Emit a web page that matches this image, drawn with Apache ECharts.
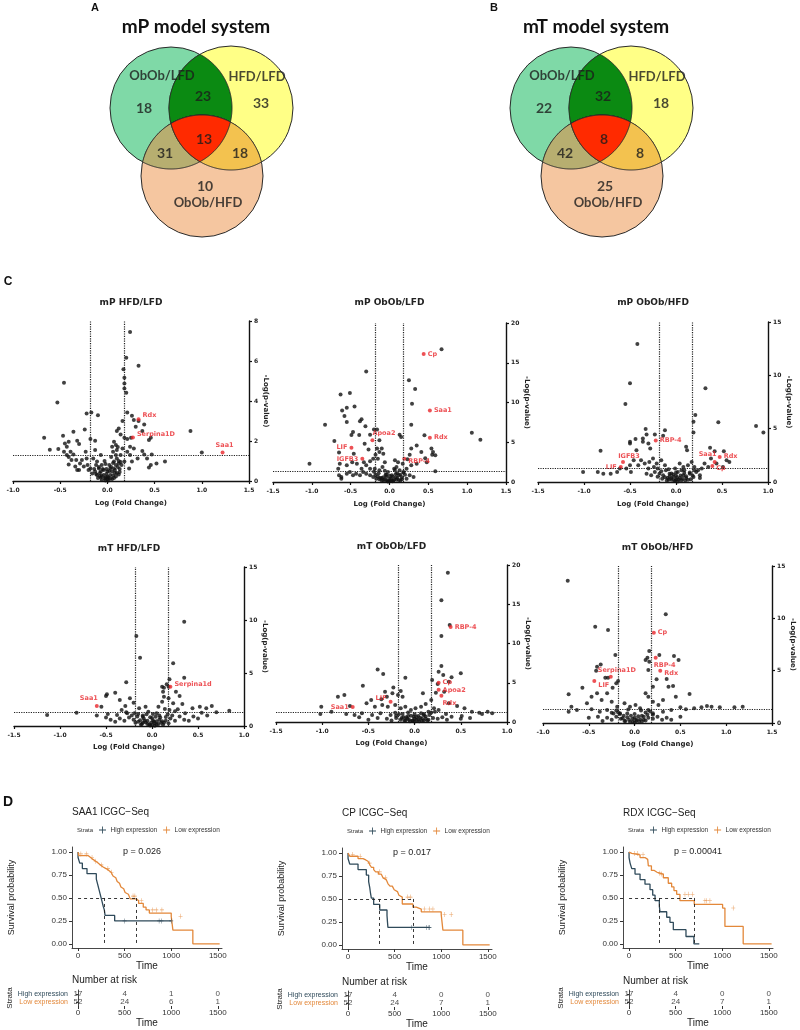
<!DOCTYPE html>
<html><head><meta charset="utf-8">
<script src="https://cdn.jsdelivr.net/npm/echarts@6/dist/echarts.min.js"></script>
<style>html,body{margin:0;padding:0;background:#fff}#c{width:800px;height:1030px}</style>
</head><body><div id="c"></div><script>
// ================= DATA =================
// Venn regions order: only ObOb/LFD, only HFD/LFD, only ObOb/HFD, Ob/LFD∩HFD/LFD, Ob/LFD∩Ob/HFD, HFD/LFD∩Ob/HFD, all three
const vennSetNames = ['ObOb/LFD', 'HFD/LFD', 'ObOb/HFD'];
const vennA_counts = [18, 33, 10, 23, 31, 18, 13];
const vennB_counts = [22, 18, 25, 32, 42, 8, 8];

const FC_CUT = 0.176;   // log10(1.5)
const P_CUT = 1.3;      // -log10(0.05)

const mP_HFD_LFD = [[0.24,7.45],[0.33,5.76],[0.20,6.16],[0.17,5.59],[0.18,5.16],[0.18,4.88],[0.18,4.63],[0.20,4.41],[-0.46,4.91],[-0.53,3.93],[-0.17,3.43],[-0.22,3.38],[-0.10,3.29],[0.21,3.43],[0.26,3.26],[0.28,3.05],[0.33,3.0],[0.39,2.83],[0.30,2.71],[0.16,3.0],[0.88,2.5],[-0.67,2.16],[-0.47,2.26],[-0.36,2.46],[-0.32,2.01],[-0.24,2.58],[-0.18,2.1],[-0.13,2.01],[-0.61,1.56],[-0.52,1.6],[0.12,2.63],[0.10,2.5],[0.14,2.33],[0.18,2.16],[0.21,2.1],[0.25,2.16],[0.37,2.5],[0.44,2.05],[0.46,2.16],[0.37,1.5],[0.39,1.33],[0.47,1.33],[1.0,1.43],[0.61,0.97],[0.52,0.88],[0.46,0.8],[0.44,0.67],[0.42,1.13],[-0.45,1.88],[-0.43,1.71],[-0.39,1.46],[-0.41,1.2],[-0.41,0.83],[-0.36,1.33],[-0.33,1.05],[-0.30,0.55],[-0.27,1.05],[-0.23,1.46],[-0.22,1.13],[-0.21,0.8],[-0.18,0.63],[-0.15,1.13],[-0.13,1.55],[-0.11,0.97],[-0.09,0.63],[-0.07,1.3],[-0.06,0.8],[-0.07,0.47],[-0.04,0.3],[-0.02,0.17],[0,0.1],[0.01,0.17],[0.03,0.3],[0.05,0.47],[0.07,0.63],[0.09,0.8],[0.07,0.97],[0.10,1.13],[0.12,0.88],[0.14,1.3],[0.16,1.63],[0.06,1.46],[0.09,1.8],[0.07,1.96],[0.05,1.71],[0.10,1.55],[0.18,0.97],[0.21,1.46],[0.24,1.71],[0.24,1.3],[0.28,1.63],[0.32,1.13],[0.26,0.97],[0.23,0.63],[0.03,0.63],[0,0.47],[-0.04,0.55],[-0.11,0.3],[-0.07,0.17],[-0.06,0.05],[-0.02,0.03],[0.01,0.03],[0.05,0.1],[0.09,0.22],[0.12,0.33],[-0.13,0.47],[-0.16,0.38],[-0.2,0.55],[-0.25,0.72],[-0.29,0.88],[-0.32,0.55],[-0.34,0.72],[-0.38,1.05],[-0.43,1.3],[-0.46,1.46],[-0.41,1.96],[-0.30,1.85],[-0.08,0.25],[0.08,0.4],[0.02,0.8],[-0.03,1.0],[0.13,0.6],[-0.12,0.8],[0.04,1.2],[-0.01,0.6],
  [-0.12,0.35],[-0.1,0.15],[-0.08,0.4],[-0.06,0.25],[-0.05,0.6],[-0.03,0.12],[-0.01,0.35],[0.0,0.22],[0.02,0.5],[0.03,0.12],[0.04,0.7],[0.06,0.28],[0.07,0.15],[0.08,0.55],[0.1,0.4],[0.11,0.7],[0.13,0.45],[0.15,0.8],[-0.14,0.6],[0.06,0.9],[-0.09,0.7],[0.12,1.0],[0.14,0.95],[-0.02,0.85],[0.09,1.3],[0.11,1.7]];
const mP_HFD_LFD_hits = [[0.33,3.09,'Rdx','right',0,-4],[0.27,2.18,'Serpina1D','right',0,-3],[1.22,1.43,'Saa1','top',2,0]];

const mP_ObOb_LFD = [[0.67,16.7],[-0.30,13.9],[0.25,12.8],[0.33,11.7],[-0.63,11.0],[-0.51,11.2],[-0.45,9.5],[-0.55,9.35],[-0.61,9.0],[-0.58,8.3],[-0.55,7.55],[-0.36,7.9],[-0.38,7.63],[0.29,9.85],[-0.83,7.2],[-0.31,7.0],[-0.2,6.6],[-0.16,6.6],[-0.25,5.95],[-0.47,6.3],[-0.49,5.9],[-0.39,5.9],[0.28,7.2],[-0.13,5.24],[0.13,5.95],[0.15,5.66],[0.45,5.87],[1.06,6.2],[1.17,5.3],[-0.71,5.15],[-0.65,3.7],[-0.46,3.56],[-0.32,4.82],[-1.03,2.3],[0.54,4.2],[0.56,3.77],[0.59,3.35],[0.55,3.44],[0.46,3.0],[0.41,3.77],[0.35,4.6],[0.28,4.2],[0.26,3.44],[0.23,2.85],[0.17,2.3],[0.11,2.5],[0.07,2.73],[0.09,1.9],[0.13,1.47],[0.18,1.26],[0.22,1.68],[0.28,2.1],[0.35,2.3],[0.48,2.5],[0.59,1.34],[0.31,0.63],[0.26,0.84],[0.22,0.42],[0.16,0.34],[0.09,0.29],[0.05,0.17],[0,0.13],[-0.04,0.17],[-0.08,0.21],[-0.13,0.34],[-0.17,0.42],[-0.21,0.63],[-0.25,0.84],[-0.30,1.05],[-0.34,1.26],[-0.38,0.84],[-0.43,1.05],[-0.47,0.84],[-0.51,1.26],[-0.55,1.05],[-0.62,0.63],[-0.66,1.68],[-0.64,2.3],[-0.55,2.1],[-0.48,2.5],[-0.42,2.3],[-0.36,1.68],[-0.30,2.1],[-0.25,2.6],[-0.21,2.93],[-0.18,3.44],[-0.15,2.93],[-0.13,3.77],[-0.10,4.2],[-0.08,3.56],[-0.06,2.5],[-0.09,1.9],[-0.13,1.47],[-0.19,1.68],[-0.02,1.26],[0.03,0.84],[0.06,1.68],[-0.04,0.63],[0.12,0.84],[-0.25,1.68],[-0.33,2.5],[-0.16,4.2],[-0.27,4.1],[-0.65,0.84],[-0.62,0.42],[-0.1,0.5],[0.02,0.4],[0.08,0.6],[-0.05,0.9],[0.1,1.1],[-0.15,0.7],[0.2,0.9],[0.04,0.1],[-0.02,0.05],[0.14,0.2],
  [-0.12,0.5],[-0.1,0.2],[-0.08,0.6],[-0.06,0.3],[-0.04,0.9],[-0.02,0.1],[0,0.4],[0.02,0.2],[0.04,0.7],[0.06,0.3],[0.08,1.0],[0.1,0.5],[0.12,0.25],[0.14,0.9],[-0.14,1.1],[-0.18,0.9],[0.16,0.6],[0.18,1.2],[-0.2,1.3],[0.0,0.8],[-0.06,1.4],[0.07,1.5]];
const mP_ObOb_LFD_hits = [[0.44,16.1,'Cp','right',0,0],[0.52,9.0,'Saa1','right',0,0],[0.52,5.58,'Rdx','right',0,0],[-0.22,5.24,'Apoa2','right',-4,-7],[-0.49,4.32,'LIF','left',0,0],[-0.35,2.93,'IGFB3','left',0,1],[0.19,2.93,'RBP-4','right',0,3]];

const mP_ObOb_HFD = [[-0.42,12.93],[-0.50,9.26],[-0.55,7.31],[0.32,8.79],[0.46,5.59],[0.87,5.24],[0.95,4.64],[0.21,6.28],[0.19,5.65],[0.19,4.64],[-0.33,4.96],[-0.44,4.02],[-0.50,3.77],[-0.50,3.6],[-0.36,4.08],[-0.32,4.45],[-0.23,4.45],[-0.14,4.33],[-0.12,4.86],[-0.43,2.98],[-0.82,2.92],[-0.36,3.77],[-0.30,3.6],[-0.28,3.14],[0.11,3.3],[0.12,2.98],[0.37,3.2],[0.42,2.89],[0.52,2.89],[-1.01,0.94],[-0.85,0.94],[-0.79,0.78],[-0.71,0.78],[-0.64,0.94],[-0.61,1.26],[-0.54,1.26],[-0.50,1.57],[-0.49,0.94],[-0.46,2.04],[-0.41,1.57],[-0.38,2.04],[-0.34,1.73],[-0.30,1.26],[-0.29,1.88],[-0.25,2.2],[-0.21,1.73],[-0.20,1.26],[-0.16,2.04],[-0.12,1.57],[-0.11,1.1],[-0.07,0.78],[-0.03,0.47],[0,0.25],[0.04,0.38],[0.08,0.63],[0.09,1.1],[0.13,1.57],[0.17,1.88],[0.20,1.41],[0.22,0.94],[0.26,0.63],[0.28,1.26],[0.31,1.73],[0.35,1.41],[0.38,2.2],[0.44,1.73],[0.55,2.04],[0.58,1.88],[0.51,1.41],[0.06,0.16],[-0.05,0.22],[-0.09,0.38],[-0.14,0.63],[-0.18,0.78],[-0.23,0.94],[-0.27,0.63],[-0.32,0.78],[0.11,0.38],[0.15,0.78],[0.19,0.47],[0.24,1.1],[0.02,0.94],[-0.01,1.26],[0.06,1.1],[0.04,1.73],[0.26,0.38],[-0.02,0.1],[0.02,0.05],[-0.08,0.2],[0.1,0.15],[-0.15,0.3],[0.16,0.25],[0.0,0.6],[-0.05,0.8],
  [-0.12,0.45],[-0.1,0.15],[-0.07,0.55],[-0.05,0.35],[-0.03,0.7],[-0.01,0.15],[0.01,0.45],[0.03,0.2],[0.05,0.6],[0.07,0.3],[0.09,0.85],[0.11,0.55],[0.13,0.2],[0.15,0.9],[-0.16,1.0],[-0.2,0.5],[0.18,0.6],[0.2,1.1],[-0.24,1.4],[0.0,0.9],[-0.08,1.2],[0.08,1.4]];
const mP_ObOb_HFD_hits = [[-0.22,3.89,'RBP-4','right',0,0],[0.42,1.88,'Saa1','top',-7,0],[0.475,2.35,'Rdx','right',0,-1],[0.395,1.5,'Cp','right',0,2],[-0.576,1.88,'IGFB3','top',6,2],[-0.6,1.41,'LIF','left',0,0]];

const mT_HFD_LFD = [[0.35,9.84],[-0.17,8.49],[-0.13,6.44],[0.23,5.91],[0.35,4.56],[-0.28,4.12],[0.19,4.4],[0.16,3.93],[0.13,3.61],[-0.40,3.14],[-0.49,2.99],[-0.55,1.82],[-0.50,2.83],[-1.14,1.04],[-0.82,1.26],[-0.35,2.45],[-0.24,2.61],[-0.20,2.2],[-0.29,1.89],[-0.33,1.51],[-0.14,1.67],[-0.07,1.82],[-0.04,1.35],[-0.15,1.13],[-0.27,1.2],[-0.38,1.04],[-0.48,1.13],[0.07,1.82],[0.11,2.29],[0.13,2.76],[0.12,3.24],[0.11,3.71],[0.18,3.71],[0.26,3.24],[0.30,2.83],[0.18,2.61],[0.23,2.14],[0.33,2.08],[0.28,1.58],[0.36,1.2],[0.44,1.67],[0.52,1.82],[0.59,1.67],[0.65,1.89],[0.84,1.44],[0.54,1.26],[0.01,1.13],[0.04,0.88],[-0.02,0.82],[-0.10,0.88],[-0.2,0.6],[-0.15,0.4],[-0.1,0.3],[-0.05,0.2],[0,0.1],[0.05,0.15],[0.1,0.3],[0.15,0.5],[0.2,0.7],[0.25,0.5],[-0.25,0.8],[-0.3,0.5],[-0.35,0.7],[-0.4,0.4],[0.3,0.9],[0.35,0.6],[0.4,0.5],[-0.08,0.5],[0.02,0.4],[0.08,0.6],[-0.02,0.05],[0.03,0.02],[-0.12,0.15],[0.12,0.12],[0.18,0.25],[-0.18,0.3],[0.22,1.0],[-0.22,1.0],[-0.45,0.6],[0.45,0.9],[0.5,0.7],[-0.5,0.8],[0.6,1.0],[0.7,1.3],[-0.6,1.0],[0.25,1.4],[-0.28,1.3],[0.14,1.6],[-0.1,1.0],[0.05,1.2],
  [-0.13,0.55],[-0.11,0.2],[-0.09,0.7],[-0.07,0.35],[-0.05,0.5],[-0.03,0.15],[-0.01,0.3],[0.01,0.55],[0.03,0.25],[0.05,0.45],[0.07,0.2],[0.09,0.8],[0.11,0.45],[0.13,0.3],[0.15,0.85],[-0.16,0.9],[0.17,1.1],[-0.19,1.2],[0.0,0.75],[-0.06,1.1],[0.08,1.0],[0.19,1.5]];
const mT_HFD_LFD_hits = [[0.20,3.71,'Serpina1d','right',0,-2],[-0.60,1.89,'Saa1','top',-8,0]];

const mT_ObOb_LFD = [[0.36,19.0],[0.29,15.5],[0.38,12.35],[0.29,10.95],[0.29,7.13],[-0.40,6.7],[-0.34,6.11],[-0.10,5.65],[0.50,6.2],[0.40,5.7],[0.26,6.4],[0.31,5.99],[0.19,5.35],[0.37,5.13],[0.25,4.84],[-0.56,4.63],[-0.23,4.38],[-0.32,3.86],[-0.15,3.95],[-0.83,3.23],[-0.76,3.44],[-1.01,1.95],[-1.02,1.02],[-0.70,2.04],[-0.90,1.31],[-0.36,2.89],[-0.30,3.23],[-0.24,3.66],[-0.18,3.44],[-0.13,3.23],[-0.47,2.8],[-0.52,2.38],[-0.43,1.95],[-0.35,2.17],[-0.29,1.95],[-0.21,2.17],[-0.15,1.74],[-0.10,1.95],[-0.04,1.53],[0.01,1.74],[0.07,1.95],[0.12,2.29],[0.09,3.66],[0.18,2.8],[0.23,3.73],[0.32,3.86],[0.37,2.38],[0.46,2.04],[0.54,1.74],[0.62,1.31],[0.70,1.18],[0.79,1.31],[0.84,1.1],[0.73,1.02],[0.51,0.76],[0.40,0.68],[0.34,1.02],[0.26,1.53],[0.21,1.74],[0.15,1.31],[0.10,1.02],[0.04,0.76],[-0.01,0.68],[-0.07,0.76],[-0.13,1.02],[-0.21,1.18],[-0.26,0.89],[-0.37,1.1],[-0.46,0.89],[-0.57,1.1],[-0.65,0.89],[-0.74,1.02],[-0.3,0.4],[-0.2,0.5],[-0.15,0.3],[-0.1,0.2],[-0.05,0.1],[0,0.05],[0.05,0.1],[0.1,0.2],[0.15,0.3],[0.2,0.5],[0.25,0.4],[0.3,0.6],[-0.25,0.2],[-0.4,0.5],[-0.5,0.3],[0.35,0.3],[-0.08,0.4],[0.08,0.45],[0.02,0.25],[-0.02,0.15],[-0.12,0.6],[0.12,0.7],[0.5,0.4],[-0.6,0.6],[0.6,0.5],
  [-0.14,0.5],[-0.11,0.15],[-0.09,0.6],[-0.06,0.3],[-0.04,0.8],[-0.02,0.2],[0.0,0.45],[0.02,0.65],[0.04,0.3],[0.06,0.55],[0.08,0.15],[0.1,0.85],[0.12,0.4],[0.14,0.2],[0.16,0.9],[-0.17,1.0],[0.18,1.2],[-0.2,0.8],[0.0,1.0],[-0.07,1.2],[0.07,1.1],[0.22,1.3]];
const mT_ObOb_LFD_hits = [[0.39,12.1,'RBP-4','right',0,0],[0.26,5.0,'Cp','right',0,0],[0.26,4.1,'Apoa2','right',0,0],[0.29,3.35,'Rdx','bottom',8,0],[-0.67,1.9,'Saa1','left',0,0],[-0.26,2.59,'LIF','left',0,-3]];

const mT_ObOb_HFD = [[-0.73,13.59],[0.34,10.38],[-0.43,9.2],[-0.29,8.88],[-0.21,6.5],[0.27,6.5],[0.43,6.4],[0.48,6.02],[0.16,6.88],[0.14,6.24],[0.12,6.02],[0.16,5.86],[-0.37,5.6],[-0.41,5.38],[-0.42,5.0],[-0.32,4.33],[-0.29,4.33],[0.15,5.06],[0.35,4.2],[0.24,4.17],[-0.57,3.37],[-0.24,3.37],[-0.20,3.79],[-0.18,4.01],[0.20,3.47],[0.42,3.54],[-0.72,2.74],[-0.69,1.56],[-0.63,1.24],[-0.72,1.08],[-0.52,1.88],[-0.47,2.51],[-0.41,2.84],[-0.36,2.2],[-0.30,2.84],[-0.25,2.03],[-0.19,1.56],[-0.11,1.88],[-0.05,1.56],[0.01,1.72],[0.06,1.4],[0.12,2.84],[0.15,2.51],[0.20,2.03],[0.26,1.72],[0.31,2.2],[0.37,3.47],[0.45,2.51],[0.60,2.77],[0.50,1.5],[0.56,1.31],[0.65,1.4],[0.73,1.5],[0.79,1.62],[0.84,1.56],[0.93,1.5],[1.09,1.5],[1.18,1.56],[0.40,1.24],[0.31,1.08],[0.20,0.93],[0.15,1.24],[-0.47,1.31],[-0.38,1.08],[-0.30,1.24],[-0.25,0.98],[-0.16,0.93],[-0.3,0.5],[-0.25,0.3],[-0.2,0.6],[-0.15,0.4],[-0.1,0.2],[-0.05,0.1],[0,0.05],[0.05,0.15],[0.1,0.3],[0.15,0.5],[0.2,0.4],[0.25,0.6],[0.3,0.3],[-0.12,0.7],[0.08,0.7],[-0.02,0.4],[0.02,0.3],[-0.35,0.2],[0.35,0.5],[-0.4,0.6],[0.4,0.3],[-0.08,0.9],[0.12,1.0],[-0.18,1.0],[-0.5,0.5],[0.5,0.6],
  [-0.13,0.45],[-0.11,0.2],[-0.08,0.55],[-0.06,0.3],[-0.04,0.7],[-0.02,0.15],[0.0,0.5],[0.02,0.2],[0.04,0.65],[0.06,0.35],[0.08,0.15],[0.1,0.6],[0.12,0.25],[0.14,0.8],[-0.16,0.85],[0.17,1.1],[-0.2,1.2],[0.0,0.85],[-0.07,1.3],[0.07,1.2],[0.2,0.8],[-0.23,0.9]];
const mT_ObOb_HFD_hits = [[0.21,8.63,'Cp','right',0,0],[0.23,6.24,'RBP-4','bottom',9,0],[0.28,5.0,'Rdx','right',0,3],[-0.26,4.42,'Serpina1D','top',6,1],[-0.44,4.01,'LIF','right',0,4]];

// Kaplan-Meier: [time, survival after event]
const kmTimeTicks = [0, 500, 1000, 1500];
const survTicks = [0, 0.25, 0.5, 0.75, 1];
const strata = ['High expression', 'Low expression'];

const saa1_high = [[0,1],[18,0.94],[46,0.88],[96,0.82],[196,0.765],[210,0.705],[225,0.65],[240,0.59],[255,0.53],[270,0.47],[282,0.41],[290,0.37],[393,0.31],[418,0.25],[1000,0.25]];
const saa1_low = [[0,1],[8,0.98],[110,0.96],[135,0.94],[160,0.92],[190,0.90],[215,0.88],[240,0.86],[265,0.84],[300,0.82],[330,0.80],[355,0.78],[375,0.76],[395,0.74],[405,0.72],[420,0.70],[430,0.68],[445,0.66],[460,0.64],[475,0.62],[490,0.60],[505,0.58],[520,0.56],[540,0.54],[560,0.52],[625,0.49],[650,0.47],[700,0.44],[730,0.40],[765,0.37],[1000,0.335],[1018,0.30],[1232,0.15],[1520,0]];
const saa1_high_cens = [[500,0.25],[870,0.25],[895,0.25],[1000,0.25]];
const saa1_low_cens = [[30,0.98],[90,0.98],[150,0.94],[190,0.90],[250,0.86],[320,0.82],[360,0.78],[590,0.52],[610,0.52],[680,0.47],[800,0.37],[840,0.37],[900,0.37],[1100,0.30]];
const saa1_medians = [282, 625];
const saa1_risk_high = [17, 4, 1, 0];
const saa1_risk_low = [52, 24, 6, 1];

const cp_high = [[0,1],[18,0.94],[107,0.88],[196,0.82],[221,0.76],[232,0.69],[240,0.63],[250,0.57],[275,0.51],[340,0.44],[418,0.38],[423,0.32],[428,0.25],[625,0.19],[875,0.19]];
const cp_low = [[0,1],[18,0.985],[107,0.965],[161,0.94],[190,0.925],[214,0.91],[235,0.89],[250,0.87],[275,0.845],[296,0.82],[325,0.795],[357,0.77],[375,0.75],[393,0.73],[410,0.71],[429,0.69],[450,0.665],[475,0.64],[495,0.62],[511,0.60],[530,0.58],[546,0.56],[565,0.54],[582,0.52],[696,0.445],[732,0.41],[786,0.39],[1000,0.36],[1018,0.33],[1232,0.16],[1520,0]];
const cp_high_cens = [[680,0.19],[840,0.19],[868,0.19],[875,0.19]];
const cp_low_cens = [[50,0.985],[130,0.965],[230,0.89],[340,0.795],[400,0.73],[640,0.52],[670,0.52],[821,0.39],[875,0.39],[911,0.39],[1036,0.33],[1107,0.33]];
const cp_medians = [340, 696];
const cp_risk_high = [17, 4, 0, 0];
const cp_risk_low = [52, 24, 7, 1];

const rdx_high = [[0,1],[11,0.94],[29,0.88],[64,0.82],[118,0.76],[171,0.70],[225,0.65],[254,0.59],[279,0.53],[325,0.47],[332,0.41],[404,0.35],[439,0.29],[475,0.235],[611,0.155],[696,0.08],[754,0]];
const rdx_low = [[0,1],[29,0.985],[118,0.97],[171,0.94],[200,0.92],[207,0.90],[240,0.85],[271,0.80],[300,0.78],[330,0.77],[368,0.76],[421,0.72],[457,0.66],[482,0.62],[511,0.58],[546,0.54],[700,0.47],[1004,0.43],[1029,0.39],[1225,0.19],[1530,0]];
const rdx_high_cens = [];
const rdx_low_cens = [[60,0.985],[90,0.985],[150,0.97],[330,0.77],[350,0.76],[600,0.54],[635,0.54],[680,0.54],[814,0.47],[832,0.47],[868,0.47],[1118,0.39]];
const rdx_medians = [325, 700];
const rdx_risk_high = [17, 4, 0, 0];
const rdx_risk_low = [52, 24, 7, 1];

// ================= BUILD =================
const VF = 'DejaVu Sans', KF = 'Liberation Sans', NF = 'Lato';
const HIGH_C = '#2f4a5a', LOW_C = '#e3883a', RED = '#e8262b';
const grid = [], xAxis = [], yAxis = [], series = [], legend = [], graphic = [];
function addGrid(g, xa, ya) { grid.push(g); const i = grid.length - 1; xa.gridIndex = i; ya.gridIndex = i; xAxis.push(xa); yAxis.push(ya); return i; }
function txt(t, x, y, font, opt) { opt = opt || {}; graphic.push({ type: 'text', x: x, y: y, rotation: opt.rot || 0, silent: true, style: { text: t, font: font, fill: opt.c || '#111', align: opt.a || 'center', verticalAlign: 'middle' } }); }

// ---- Venn ----
const vennCircles = [[91, 78, 61], [151, 78, 62], [122, 146, 61]];
const vennRegions = [[0], [1], [2], [0, 1], [0, 2], [1, 2], [0, 1, 2]];
const vennFills = ['#7fd9a7', '#ffff86', '#f5c6a0', '#0b8a12', '#b7ae70', '#f3c24f', '#ff2a00'];
const vennCountPos = [[64, 78], [181, 73], [125, 156], [123, 66], [85, 123], [160, 123], [124, 109]];
const vennNamePos = [[82, 46], [177, 47], [128, 173]];
function venn(left, counts) {
  const gi = addGrid({ left: left, top: 30, width: 240, height: 220 },
    { type: 'value', min: 0, max: 240, show: false },
    { type: 'value', min: 0, max: 220, inverse: true, show: false });
  series.push({
    type: 'custom', xAxisIndex: gi, yAxisIndex: gi, silent: true, clip: false,
    data: vennRegions.map((r, k) => [120, 110, k]),
    renderItem: function (params, api) {
      const k = api.value(2), reg = vennRegions[k];
      const cs = vennCircles.map(g => { const p = api.coord([g[0], g[1]]); return { x: p[0], y: p[1], r: api.size([g[2], 0])[0] }; });
      const style = { fill: vennFills[k], stroke: '#2a2a2a', lineWidth: 1 };
      if (reg.length === 1) { const c = cs[reg[0]]; return { type: 'circle', shape: { cx: c.x, cy: c.y, r: c.r }, style: style }; }
      const pts = [];
      reg.forEach(i => { const c = cs[i]; for (let a = 0; a < 720; a++) { const t = a / 720 * 2 * Math.PI; const x = c.x + c.r * Math.cos(t), y = c.y + c.r * Math.sin(t); if (reg.every(j => j === i || Math.hypot(x - cs[j].x, y - cs[j].y) <= cs[j].r + 0.01)) pts.push([x, y]); } });
      let mx = 0, my = 0; pts.forEach(p => { mx += p[0]; my += p[1]; }); mx /= pts.length; my /= pts.length;
      pts.sort((p, q) => Math.atan2(p[1] - my, p[0] - mx) - Math.atan2(q[1] - my, q[0] - mx));
      return { type: 'polygon', shape: { points: pts }, style: style };
    }
  });
  const labels = counts.map((c, k) => ({ value: vennCountPos[k], name: String(c), label: { fontSize: 14 } }))
    .concat(vennSetNames.map((n, k) => ({ value: vennNamePos[k], name: n, label: { fontSize: 13 } })));
  series.push({ type: 'scatter', xAxisIndex: gi, yAxisIndex: gi, silent: true, symbolSize: 0, z: 5, data: labels,
    label: { show: true, position: 'inside', formatter: '{b}', fontFamily: NF, fontWeight: 'bold', color: '#1b1b1b' } });
}
venn(80, vennA_counts);
venn(480, vennB_counts);
txt('A', 95, 8, 'bold 11px "Liberation Sans"');
txt('B', 494, 8, 'bold 11px "Liberation Sans"');
txt('mP model system', 196, 27, 'bold 19px Lato');
txt('mT model system', 596, 27, 'bold 19px Lato');

// ---- Volcano ----
function volcano(c) {
  const gi = addGrid({ left: c.left, top: c.top, width: c.w, height: c.h },
    { type: 'value', min: c.xr[0], max: c.xr[1], interval: 0.5, name: 'Log (Fold Change)', nameLocation: 'middle', nameGap: c.ng || 19,
      nameTextStyle: { fontFamily: VF, fontWeight: 'bold', fontSize: 7, color: '#222' },
      axisLine: { onZero: false, lineStyle: { color: '#111', width: 1.4 } },
      axisTick: { show: true, length: 3, lineStyle: { color: '#111', width: 1.2 } },
      axisLabel: { fontFamily: VF, fontWeight: 'bold', fontSize: 6, color: '#222', margin: 6, formatter: v => v.toFixed(1) },
      splitLine: { show: false } },
    { type: 'value', position: 'right', min: 0, max: c.ymax, interval: c.yi, name: '-Log(p-value)', nameLocation: 'middle', nameRotate: -90, nameGap: 12,
      nameTextStyle: { fontFamily: VF, fontWeight: 'bold', fontSize: 7, color: '#222' },
      axisLine: { show: true, onZero: false, lineStyle: { color: '#111', width: 1.4 } },
      axisTick: { show: true, length: 3, lineStyle: { color: '#111', width: 1.2 } },
      axisLabel: { fontFamily: VF, fontWeight: 'bold', fontSize: 6, color: '#222', margin: 5 },
      splitLine: { show: false } });
  series.push({ type: 'scatter', xAxisIndex: gi, yAxisIndex: gi, data: c.pts, symbolSize: 4, itemStyle: { color: '#111' }, silent: true,
    markLine: { silent: true, symbol: 'none', label: { show: false }, lineStyle: { type: 'dotted', color: '#222', width: 1.2 },
      data: [{ xAxis: -FC_CUT }, { xAxis: FC_CUT }, { yAxis: P_CUT }] } });
  series.push({ type: 'scatter', xAxisIndex: gi, yAxisIndex: gi, silent: true, symbolSize: 4, z: 4, itemStyle: { color: RED },
    data: c.hits.map(h => ({ value: [h[0], h[1]], name: h[2], label: { position: h[3], offset: [h[4] || 0, h[5] || 0] } })),
    label: { show: true, formatter: '{b}', color: RED, fontFamily: VF, fontWeight: 'bold', fontSize: 6.5, distance: 2 } });
  txt(c.title, c.left + c.w / 2, c.ty, 'bold 9px "DejaVu Sans"', { c: '#222' });
}
volcano({ left: 13, top: 321, w: 236, h: 160, xr: [-1, 1.5], ymax: 8, yi: 2, pts: mP_HFD_LFD, hits: mP_HFD_LFD_hits, title: 'mP HFD/LFD', ty: 303 });
volcano({ left: 273, top: 323, w: 233, h: 159, xr: [-1.5, 1.5], ymax: 20, yi: 5, pts: mP_ObOb_LFD, hits: mP_ObOb_LFD_hits, title: 'mP ObOb/LFD', ty: 303 });
volcano({ left: 538, top: 322, w: 230, h: 160, xr: [-1.5, 1], ymax: 15, yi: 5, pts: mP_ObOb_HFD, hits: mP_ObOb_HFD_hits, title: 'mP ObOb/HFD', ty: 303 });
volcano({ left: 14, top: 567, w: 230, h: 159, xr: [-1.5, 1], ymax: 15, yi: 5, pts: mT_HFD_LFD, hits: mT_HFD_LFD_hits, title: 'mT HFD/LFD', ty: 549, ng: 18 });
volcano({ left: 276, top: 565, w: 231, h: 157, xr: [-1.5, 1], ymax: 20, yi: 5, pts: mT_ObOb_LFD, hits: mT_ObOb_LFD_hits, title: 'mT ObOb/LFD', ty: 547, ng: 18 });
volcano({ left: 543, top: 566, w: 229, h: 157, xr: [-1, 1.5], ymax: 15, yi: 5, pts: mT_ObOb_HFD, hits: mT_ObOb_HFD_hits, title: 'mT ObOb/HFD', ty: 548, ng: 18 });
txt('C', 8, 282, 'bold 12px "Liberation Sans"');

// ---- Kaplan-Meier ----
const PLUS = 'path://M4.4,0H5.6V10H4.4Z M0,4.4H10V5.6H0Z';
function timeAxis(nameGap, margin) {
  return { type: 'value', min: -65, max: 1545, name: 'Time', nameLocation: 'middle', nameGap: nameGap,
    nameTextStyle: { fontFamily: KF, fontSize: 10, color: '#222' },
    axisLine: { onZero: false, lineStyle: { color: '#333', width: 0.9 } },
    axisTick: { show: true, customValues: kmTimeTicks, length: 3, lineStyle: { color: '#333' } },
    axisLabel: { customValues: kmTimeTicks, formatter: v => String(v), fontFamily: KF, fontSize: 8, color: '#333', margin: margin },
    splitLine: { show: false } };
}
function km(c) {
  const gi = addGrid({ left: c.left, top: c.top, width: 150, height: 101 }, timeAxis(11, 4),
    { type: 'value', min: -0.045, max: 1.055, name: 'Survival probability', nameLocation: 'middle', nameGap: 56,
      nameTextStyle: { fontFamily: KF, fontSize: 9, color: '#222' },
      axisLine: { show: true, onZero: false, lineStyle: { color: '#333', width: 0.9 } },
      axisTick: { show: true, customValues: survTicks, length: 3, lineStyle: { color: '#333' } },
      axisLabel: { customValues: survTicks, formatter: v => v.toFixed(2), fontFamily: KF, fontSize: 8, color: '#333', margin: 5 },
      splitLine: { show: false } });
  const lineS = (name, data, col) => ({ type: 'line', name: name, xAxisIndex: gi, yAxisIndex: gi, data: data, step: 'start', showSymbol: false, symbol: 'none', silent: true, lineStyle: { color: col, width: 1.3 }, itemStyle: { color: col }, z: 3 });
  const hi = lineS(strata[0], c.high, HIGH_C), lo = lineS(strata[1], c.low, LOW_C);
  const mh = c.med[0], ml = c.med[1];
  lo.markLine = { silent: true, symbol: 'none', label: { show: false }, lineStyle: { type: [3, 3], color: '#222', width: 0.9 },
    data: [[{ coord: [0, 0.5] }, { coord: [ml, 0.5] }], [{ coord: [mh, 0.5] }, { coord: [mh, 0] }], [{ coord: [ml, 0.5] }, { coord: [ml, 0] }]] };
  series.push(hi, lo);
  [[strata[0], c.hc, HIGH_C], [strata[1], c.lc, LOW_C]].forEach(s => series.push({ type: 'scatter', name: s[0], xAxisIndex: gi, yAxisIndex: gi, data: s[1], symbol: PLUS, symbolSize: [4, 5], itemStyle: { color: s[2] }, silent: true, z: 4 }));
  legend.push({ data: strata, left: c.left + 27, top: c.ly - 3.5, padding: 0, itemWidth: 10, itemHeight: 7, itemGap: 6, icon: PLUS, selectedMode: false,
    textStyle: { fontFamily: KF, fontSize: 6.5, color: '#333', padding: [0, 0, 0, -2] } });
  txt('Strata', c.left + 5, c.ly, '6px "Liberation Sans"', { a: 'left', c: '#333' });
  txt(c.title, c.left, c.ty, '10px "Liberation Sans"', { a: 'left', c: '#222' });
  txt(c.p, c.left + c.px, c.top + 5, '9px "Liberation Sans"', { c: '#222' });
  txt('Number at risk', c.left, c.nry, '10px "Liberation Sans"', { a: 'left', c: '#222' });
  // risk table
  const ri = addGrid({ left: c.left, top: c.rt, width: 150, height: 16 }, timeAxis(10, 3),
    { type: 'category', data: ['Low expression', 'High expression'], name: 'Strata', nameLocation: 'middle', nameGap: 58,
      nameTextStyle: { fontFamily: KF, fontSize: 8, color: '#222' },
      axisLine: { show: true, lineStyle: { color: '#333', width: 0.9 } },
      axisTick: { show: true, alignWithLabel: true, interval: 0, length: 2, lineStyle: { color: '#333' } },
      axisLabel: { interval: 0, fontFamily: KF, fontSize: 7, margin: 4, color: v => v === 'High expression' ? HIGH_C : LOW_C } });
  const rows = [];
  kmTimeTicks.forEach((t, k) => { rows.push([t, strata[0], c.rh[k]]); rows.push([t, strata[1], c.rl[k]]); });
  series.push({ type: 'scatter', xAxisIndex: ri, yAxisIndex: ri, data: rows, symbolSize: 0, silent: true,
    label: { show: true, position: 'inside', formatter: p => String(p.value[2]), fontFamily: KF, fontSize: 8, color: '#222' } });
}
km({ left: 72, top: 847, rt: 990, title: 'SAA1 ICGC\u2212Seq', ty: 812, ly: 830, p: 'p = 0.026', px: 70, nry: 980, high: saa1_high, low: saa1_low, hc: saa1_high_cens, lc: saa1_low_cens, med: saa1_medians, rh: saa1_risk_high, rl: saa1_risk_low });
km({ left: 342, top: 848, rt: 991, title: 'CP ICGC\u2212Seq', ty: 813, ly: 831, p: 'p = 0.017', px: 70, nry: 982, high: cp_high, low: cp_low, hc: cp_high_cens, lc: cp_low_cens, med: cp_medians, rh: cp_risk_high, rl: cp_risk_low });
km({ left: 623, top: 847, rt: 990, title: 'RDX ICGC\u2212Seq', ty: 813, ly: 830, p: 'p = 0.00041', px: 75, nry: 981, high: rdx_high, low: rdx_low, hc: rdx_high_cens, lc: rdx_low_cens, med: rdx_medians, rh: rdx_risk_high, rl: rdx_risk_low });
txt('D', 8, 802, 'bold 14px "Liberation Sans"');

const chart = echarts.init(document.getElementById('c'), null, { renderer: 'canvas' });
chart.setOption({ animation: false, backgroundColor: '#fff', grid: grid, xAxis: xAxis, yAxis: yAxis, series: series, legend: legend, graphic: graphic });
</script></body></html>
